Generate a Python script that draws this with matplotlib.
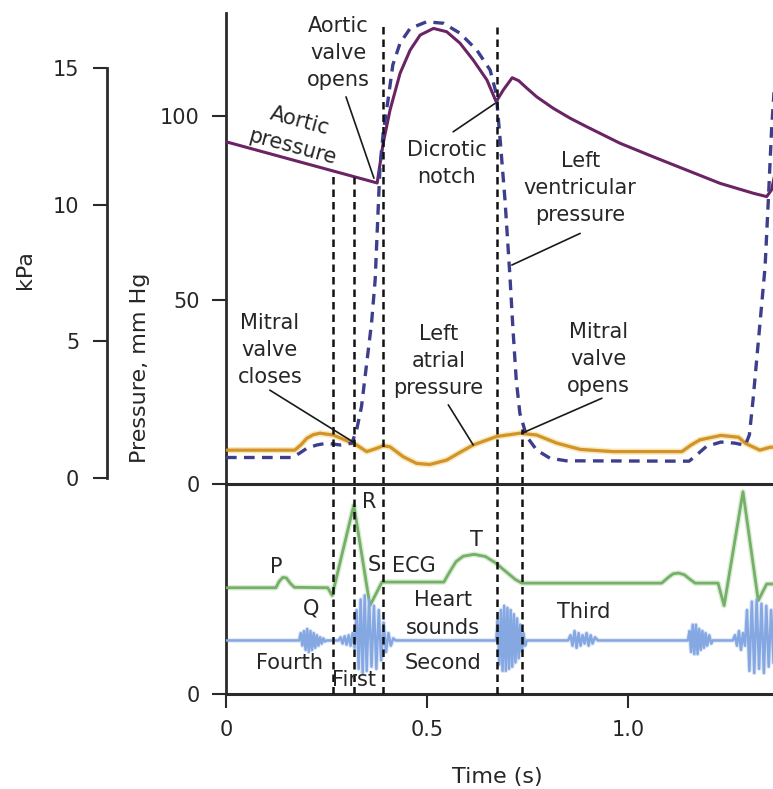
import matplotlib
matplotlib.use("Agg")
import matplotlib.pyplot as plt

plt.rcParams['font.family'] = ['DejaVu Sans']

# ---------------- data ----------------
# Aortic pressure, mm Hg
aortic_t = [0.0, 0.376, 0.391, 0.408, 0.433, 0.458, 0.483, 0.516, 0.549, 0.582,
            0.615, 0.649, 0.672, 0.690, 0.712, 0.728, 0.748, 0.773, 0.814, 0.856,
            0.897, 0.980, 1.063, 1.146, 1.229, 1.312, 1.345, 1.357, 1.365]
aortic_p = [93.0, 81.8, 92.6, 101.6, 111.6, 117.9, 122.0, 123.8, 122.9, 119.8,
            115.2, 109.8, 103.9, 107.1, 110.4, 109.6, 107.6, 105.2, 102.1, 99.4,
            97.1, 92.6, 88.9, 85.3, 81.7, 79.0, 78.1, 79.9, 84.0]

# Left ventricular pressure, mm Hg
lv_t = [0.0, 0.163, 0.182, 0.201, 0.226, 0.251, 0.284, 0.313, 0.325, 0.337,
        0.350, 0.362, 0.371, 0.383, 0.391, 0.403, 0.415, 0.433, 0.458, 0.499,
        0.541, 0.582, 0.624, 0.657, 0.672, 0.682, 0.694, 0.706, 0.714, 0.722,
        0.731, 0.748, 0.773, 0.806, 0.847, 1.152, 1.175, 1.195, 1.231, 1.266,
        1.292, 1.302, 1.311, 1.341, 1.349, 1.357, 1.37]
lv_p = [7.2, 7.2, 8.3, 9.7, 10.6, 11.1, 10.6, 11.1, 14.7, 21.0,
        32.8, 43.7, 55.4, 86.2, 95.3, 104.3, 113.9, 119.8, 123.8, 125.6,
        125.2, 122.5, 117.9, 112.5, 106.2, 93.5, 77.2, 57.0, 41.8, 28.3,
        19.2, 12.9, 9.2, 7.0, 6.3, 6.2, 8.3, 10.2, 11.4, 11.1,
        10.5, 13.4, 22.8, 59.0, 77.0, 96.0, 118.0]

# Left atrial pressure, mm Hg
la_t = [0.0, 0.171, 0.186, 0.201, 0.217, 0.234, 0.267, 0.300, 0.325, 0.350,
        0.375, 0.391, 0.408, 0.441, 0.474, 0.507, 0.549, 0.582, 0.615, 0.673,
        0.731, 0.773, 0.823, 0.881, 0.963, 1.134, 1.157, 1.179, 1.231, 1.275,
        1.293, 1.328, 1.354, 1.37]
la_p = [9.2, 9.2, 10.6, 12.4, 13.4, 13.8, 13.3, 11.8, 10.6, 8.8,
        9.7, 10.4, 10.1, 7.4, 5.6, 5.3, 6.5, 8.6, 10.6, 12.9,
        13.8, 13.3, 11.1, 9.4, 8.8, 8.8, 10.6, 12.0, 13.2, 12.7,
        11.0, 9.2, 10.0, 10.0]

# ECG (relative units, 0-1 in lower panel)
ecg_t = [0.0, 0.124, 0.132, 0.141, 0.150, 0.160, 0.170, 0.253, 0.264, 0.318,
         0.358, 0.388, 0.542, 0.556, 0.572, 0.590, 0.617, 0.645, 0.670, 0.695,
         0.720, 0.736, 1.084, 1.100, 1.112, 1.125, 1.140, 1.155, 1.167, 1.224,
         1.239, 1.286, 1.324, 1.345, 1.37]
ecg_v = [0.506, 0.506, 0.535, 0.555, 0.553, 0.527, 0.508, 0.506, 0.469, 0.900,
         0.421, 0.533, 0.533, 0.580, 0.630, 0.656, 0.665, 0.655, 0.625, 0.585,
         0.545, 0.528, 0.528, 0.555, 0.572, 0.576, 0.568, 0.545, 0.528, 0.528,
         0.421, 0.963, 0.445, 0.524, 0.524]

# Heart sounds (relative units) - vertices of the phonocardiogram trace
sound_t = [0.0, 0.182, 0.186, 0.190, 0.194, 0.198, 0.202, 0.206, 0.210, 0.214,
           0.218, 0.222, 0.226, 0.230, 0.234, 0.238, 0.242, 0.246, 0.250,
           0.280, 0.285, 0.290, 0.295, 0.300, 0.305, 0.310, 0.315, 0.320,
           0.325, 0.330, 0.335, 0.340, 0.345, 0.350, 0.356, 0.362, 0.368,
           0.374, 0.380, 0.386, 0.392, 0.398, 0.404, 0.410, 0.416, 0.422,
           0.672, 0.676, 0.680, 0.684, 0.688, 0.692, 0.696, 0.700, 0.704,
           0.708, 0.712, 0.716, 0.720, 0.724, 0.728, 0.732, 0.736, 0.740,
           0.744, 0.748,
           0.851, 0.857, 0.862, 0.867, 0.872, 0.877, 0.882, 0.887, 0.892,
           0.897, 0.902, 0.907, 0.912, 0.918, 0.925,
           1.149, 1.153, 1.157, 1.161, 1.165, 1.169, 1.173, 1.177, 1.181,
           1.185, 1.189, 1.193, 1.197, 1.202, 1.207, 1.211,
           1.261, 1.266, 1.271, 1.276, 1.281, 1.286, 1.291, 1.296, 1.302,
           1.308, 1.314, 1.320, 1.326, 1.332, 1.338, 1.344, 1.350, 1.356,
           1.362]
sound_v = [0.255, 0.255, 0.290, 0.230, 0.300, 0.210, 0.310, 0.200, 0.300, 0.210,
           0.290, 0.220, 0.280, 0.230, 0.270, 0.240, 0.265, 0.250, 0.255,
           0.255, 0.270, 0.240, 0.275, 0.235, 0.280, 0.230, 0.290, 0.220,
           0.400, 0.120, 0.450, 0.100, 0.470, 0.110, 0.450, 0.130, 0.420,
           0.120, 0.400, 0.160, 0.340, 0.200, 0.290, 0.230, 0.265, 0.255,
           0.255, 0.350, 0.140, 0.400, 0.110, 0.420, 0.110, 0.410, 0.120,
           0.400, 0.130, 0.380, 0.150, 0.360, 0.170, 0.330, 0.200, 0.290,
           0.230, 0.255,
           0.255, 0.280, 0.230, 0.300, 0.220, 0.290, 0.230, 0.280, 0.240,
           0.290, 0.230, 0.280, 0.240, 0.270, 0.255,
           0.255, 0.300, 0.200, 0.330, 0.190, 0.330, 0.190, 0.310, 0.210,
           0.300, 0.220, 0.290, 0.230, 0.280, 0.240, 0.255,
           0.255, 0.280, 0.230, 0.300, 0.210, 0.290, 0.230, 0.400, 0.110,
           0.440, 0.100, 0.450, 0.120, 0.430, 0.100, 0.420, 0.130, 0.400,
           0.150]

# Event markers (s) and top of each dashed line in the pressure panel (mm Hg)
event_t = [0.267, 0.319, 0.390, 0.673, 0.736]
event_top = [84.5, 83.4, 124.7, 124.3, 15.0]

time_ticks = [0.0, 0.5, 1.0]
time_labels = ['0', '0.5', '1.0']
mmhg_ticks = [0, 50, 100]
kpa_ticks = [0, 5, 10, 15]
ecg_ticks = [0]

# ---------------- figure ----------------
W, H = 773, 789
fig = plt.figure(figsize=(W / 100, H / 100), dpi=100)

def fx(px):
    return px / W

def fy(py):
    return 1 - py / H

TXT = '#262626'
SP = '#2a2a2a'
FS = 15

ax_p = fig.add_axes([fx(226), fy(484), 1 - fx(226), fy(13) - fy(484)])
ax_e = fig.add_axes([fx(226), fy(694), 1 - fx(226), fy(484) - fy(694)])
ax_k = fig.add_axes([fx(107), fy(478), 0.001, fy(68) - fy(478)])

XMAX = (773 - 226) / 402.0
for a in (ax_p, ax_e):
    a.set_xlim(0, XMAX)
    a.patch.set_alpha(0)
ax_p.set_ylim(0, (484 - 13) / 3.68)
ax_e.set_ylim(0, 1)

# spines
for a in (ax_p, ax_e, ax_k):
    for s in a.spines.values():
        s.set_color(SP)
        s.set_linewidth(2.0)
ax_p.spines['top'].set_visible(False)
ax_p.spines['right'].set_visible(False)
ax_p.spines['bottom'].set_visible(False)
ax_e.spines['right'].set_visible(False)
ax_e.spines['top'].set_linewidth(2.2)
ax_e.spines['bottom'].set_linewidth(2.2)
for s in ('top', 'right', 'bottom'):
    ax_k.spines[s].set_visible(False)
ax_k.patch.set_alpha(0)

# ticks
ax_p.set_xticks([])
ax_p.set_yticks(mmhg_ticks)
ax_p.tick_params(axis='y', length=10, width=1.5, color=SP, pad=9,
                 labelsize=FS, labelcolor=TXT)
ax_e.set_xticks(time_ticks)
ax_e.set_xticklabels(time_labels)
ax_e.set_yticks(ecg_ticks)
ax_e.tick_params(axis='both', length=10, width=1.5, color=SP, pad=9,
                 labelsize=FS, labelcolor=TXT)
ax_k.set_xticks([])
ax_k.set_ylim(0, 15)
ax_k.set_yticks(kpa_ticks)
ax_k.tick_params(axis='y', length=10, width=1.5, color=SP, pad=10,
                 labelsize=FS, labelcolor=TXT)

# ---------------- curves ----------------
ax_p.plot(la_t, la_p, color='#f6eab8', lw=4.5, solid_capstyle='round', zorder=2)
ax_p.plot(la_t, la_p, color='#d4922a', lw=2.3, zorder=3)
ax_p.plot(aortic_t, aortic_p, color='#6b2463', lw=2.2, zorder=4, clip_on=True)
ax_p.plot(lv_t, lv_p, color='#3e3f8c', lw=2.4, linestyle=(0, (3.2, 2.2)),
          zorder=5)

ax_e.plot(ecg_t, ecg_v, color='#dcecd6', lw=4.0, zorder=2)
ax_e.plot(ecg_t, ecg_v, color='#74b067', lw=2.0, zorder=3)
ax_e.plot(sound_t, sound_v, color='#dde7f7', lw=3.2, zorder=2)
ax_e.plot(sound_t, sound_v, color='#85a8e2', lw=1.8, zorder=3)

# event lines
dash = (0, (3.0, 2.0))
for t, top in zip(event_t, event_top):
    ax_p.plot([t, t], [0, top], color='#111111', lw=1.8, linestyle=dash, zorder=6)
    ax_e.plot([t, t], [0, 1], color='#111111', lw=1.8, linestyle=dash, zorder=6)

# ---------------- labels ----------------
def lbl(a, s, t, v, **kw):
    a.text(t, v, s, ha='center', va='center', fontsize=FS, color=TXT,
           linespacing=1.45, zorder=7, **kw)

def leader(a, t0, v0, t1, v1):
    a.annotate('', xy=(t1, v1), xytext=(t0, v0),
               arrowprops=dict(arrowstyle='-', color='#1a1a1a', lw=1.2,
                               shrinkA=0, shrinkB=0), zorder=7)

lbl(ax_p, 'Aortic\nvalve\nopens', 0.279, 117.1)
leader(ax_p, 0.2985, 105.2, 0.368, 83.1)
lbl(ax_p, 'Aortic\npressure', 0.174, 95.1, rotation=-15, rotation_mode='anchor')
lbl(ax_p, 'Dicrotic\nnotch', 0.549, 87.1)
leader(ax_p, 0.565, 95.7, 0.669, 103.4)
lbl(ax_p, 'Left\nventricular\npressure', 0.881, 80.4)
leader(ax_p, 0.881, 68.1, 0.711, 59.5)
lbl(ax_p, 'Mitral\nvalve\ncloses', 0.109, 36.4)
leader(ax_p, 0.109, 25.5, 0.321, 11.1)
lbl(ax_p, 'Left\natrial\npressure', 0.528, 33.4)
leader(ax_p, 0.553, 21.5, 0.615, 10.6)
lbl(ax_p, 'Mitral\nvalve\nopens', 0.926, 33.9)
leader(ax_p, 0.935, 23.3, 0.736, 13.8)

lbl(ax_e, 'P', 0.124, 0.606)
lbl(ax_e, 'Q', 0.211, 0.408)
lbl(ax_e, 'R', 0.356, 0.916)
lbl(ax_e, 'S', 0.369, 0.614)
lbl(ax_e, 'ECG', 0.468, 0.610)
lbl(ax_e, 'T', 0.622, 0.733)
lbl(ax_e, 'Heart\nsounds', 0.539, 0.381)
lbl(ax_e, 'Fourth', 0.157, 0.146)
lbl(ax_e, 'First', 0.319, 0.067)
lbl(ax_e, 'Second', 0.539, 0.146)
lbl(ax_e, 'Third', 0.889, 0.392)

fig.text(fx(140), fy(368), 'Pressure, mm Hg', rotation=90, ha='center',
         va='center', fontsize=16, color=TXT)
fig.text(fx(25), fy(270), 'kPa', rotation=90, ha='center', va='center',
         fontsize=16, color=TXT)
fig.text(fx(497), fy(777), 'Time (s)', ha='center', va='center',
         fontsize=16, color=TXT)

fig.savefig('out.png', dpi=100, facecolor='white')
